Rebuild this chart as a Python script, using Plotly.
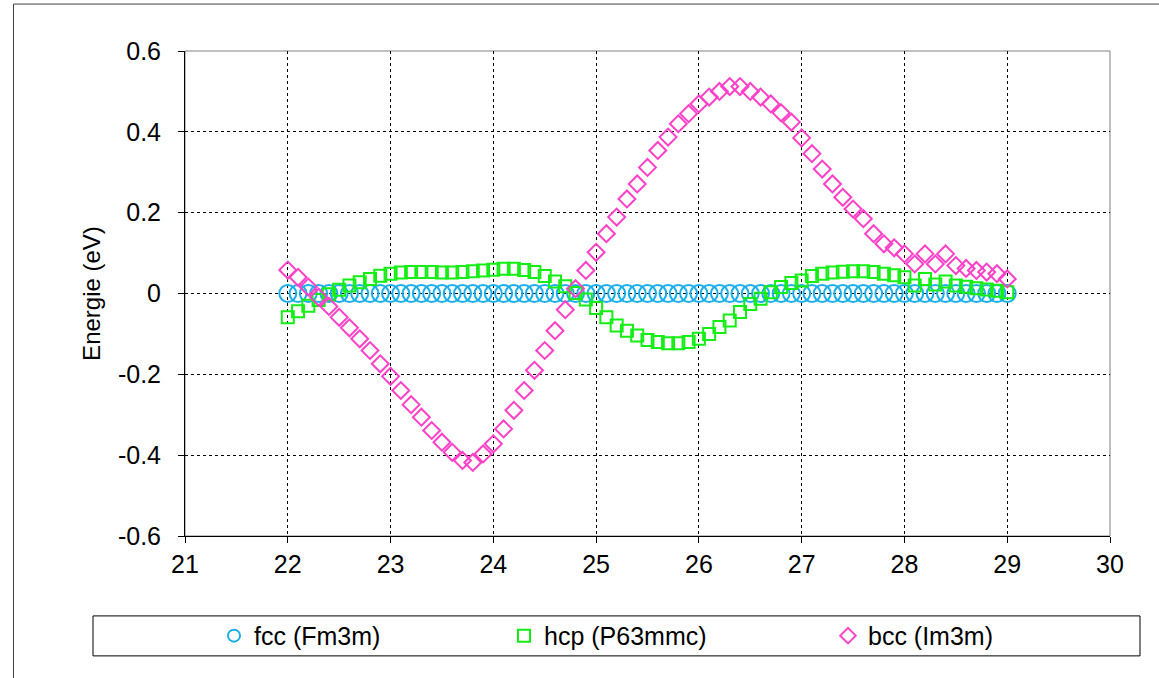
import plotly.graph_objects as go

# ---- data ----
x_vals = [round(22 + 0.1 * i, 1) for i in range(71)]

fcc = [0.0] * 71

hcp = [
    -0.059, -0.044, -0.030, -0.016, -0.002, 0.009, 0.020, 0.028, 0.036, 0.044,
    0.049, 0.052, 0.053, 0.053, 0.053, 0.052, 0.052, 0.053, 0.055, 0.057,
    0.059, 0.061, 0.061, 0.058, 0.053, 0.043, 0.030, 0.018, 0.001, -0.015,
    -0.036, -0.059, -0.079, -0.092, -0.104, -0.115, -0.120, -0.123, -0.123, -0.120,
    -0.112, -0.100, -0.083, -0.067, -0.046, -0.026, -0.013, 0.003, 0.016, 0.026,
    0.032, 0.043, 0.049, 0.052, 0.054, 0.055, 0.055, 0.053, 0.049, 0.045,
    0.040, 0.020, 0.036, 0.022, 0.030, 0.020, 0.017, 0.013, 0.010, 0.007,
    0.003,
]

bcc = [
    0.058, 0.040, 0.016, -0.009, -0.032, -0.059, -0.085, -0.112, -0.141, -0.174,
    -0.205, -0.240, -0.275, -0.306, -0.339, -0.368, -0.393, -0.413, -0.418, -0.397,
    -0.372, -0.335, -0.289, -0.240, -0.190, -0.141, -0.092, -0.040, 0.012, 0.057,
    0.102, 0.148, 0.189, 0.234, 0.271, 0.312, 0.354, 0.387, 0.420, 0.445,
    0.469, 0.486, 0.500, 0.512, 0.512, 0.500, 0.486, 0.469, 0.447, 0.424,
    0.385, 0.346, 0.308, 0.271, 0.238, 0.209, 0.185, 0.148, 0.123, 0.113,
    0.098, 0.073, 0.098, 0.073, 0.098, 0.069, 0.062, 0.057, 0.053, 0.049,
    0.036,
]

series_names = ["fcc (Fm3m)", "hcp (P63mmc)", "bcc (Im3m)"]

x_ticks = [21, 22, 23, 24, 25, 26, 27, 28, 29, 30]
x_tick_labels = ["21", "22", "23", "24", "25", "26", "27", "28", "29", "30"]
y_ticks = [-0.6, -0.4, -0.2, 0, 0.2, 0.4, 0.6]
y_tick_labels = ["-0.6", "-0.4", "-0.2", "0", "0.2", "0.4", "0.6"]

# ---- layout geometry (pixels) ----
W, H = 1159, 678
L, R, T, B = 185, 1110, 50.5, 536
pw, ph = R - L, B - T


def fx(px):
    return (px - L) / pw


def fy(py):
    return (B - py) / ph


FONT = "Liberation Sans, Arial, sans-serif"

fig = go.Figure()
fig.add_trace(go.Scatter(
    x=x_vals, y=fcc, mode="markers", name=series_names[0], legend="legend",
    marker=dict(symbol="circle-open", size=17, color="#1AAEEA",
                line=dict(width=2, color="#1AAEEA")),
))
fig.add_trace(go.Scatter(
    x=x_vals, y=hcp, mode="markers", name=series_names[1], legend="legend2",
    marker=dict(symbol="square-open", size=12, color="#14EE14",
                line=dict(width=2, color="#14EE14")),
))
fig.add_trace(go.Scatter(
    x=x_vals, y=bcc, mode="markers", name=series_names[2], legend="legend3",
    marker=dict(symbol="diamond-open", size=13, color="#FF40C8",
                line=dict(width=2, color="#FF40C8")),
))

leg_common = dict(
    orientation="h", yanchor="middle", y=fy(636), xanchor="left",
    bgcolor="rgba(0,0,0,0)", borderwidth=0, itemsizing="constant",
    font=dict(family=FONT, size=25, color="black"),
)

fig.update_layout(
    width=W, height=H,
    margin=dict(l=L, r=W - R, t=T, b=H - B),
    paper_bgcolor="white", plot_bgcolor="white",
    font=dict(family=FONT, size=25, color="black"),
    showlegend=True,
    legend=dict(x=fx(214), **leg_common),
    legend2=dict(x=fx(504), **leg_common),
    legend3=dict(x=fx(828), **leg_common),
    xaxis=dict(
        range=[21, 30], tickvals=x_ticks, ticktext=x_tick_labels,
        showgrid=True, gridcolor="black", griddash="dot", gridwidth=1,
        zeroline=False, showline=True, linecolor="black", linewidth=1,
        ticks="outside", ticklen=6, tickcolor="black",
        tickfont=dict(family=FONT, size=25, color="black"),
    ),
    yaxis=dict(
        range=[-0.6, 0.6], tickvals=y_ticks, ticktext=y_tick_labels,
        showgrid=True, gridcolor="black", griddash="dot", gridwidth=1,
        zeroline=False, showline=True, linecolor="black", linewidth=1,
        ticks="outside", ticklen=6, tickcolor="black", ticklabelstandoff=12,
        tickfont=dict(family=FONT, size=25, color="black"),
        title=dict(text="Energie (eV)", standoff=10,
                   font=dict(family=FONT, size=24, color="black")),
    ),
    shapes=[
        # plot area border (gray)
        dict(type="rect", xref="paper", yref="paper", x0=0, x1=1, y0=0, y1=1,
             line=dict(color="#808080", width=1), layer="below"),
        # legend box
        dict(type="rect", xref="paper", yref="paper",
             x0=fx(93), x1=fx(1140), y0=fy(656), y1=fy(616),
             line=dict(color="black", width=1)),
        # outer chart frame (left and top edges)
        dict(type="line", xref="paper", yref="paper",
             x0=fx(13.5), x1=fx(13.5), y0=fy(3.5), y1=fy(700),
             line=dict(color="#404040", width=1)),
        dict(type="line", xref="paper", yref="paper",
             x0=fx(13.5), x1=fx(1200), y0=fy(3.5), y1=fy(3.5),
             line=dict(color="#404040", width=1)),
    ],
)

fig.write_html(
    "out.html",
    config={"displayModeBar": False},
    post_script="document.body.style.margin='0px';document.body.style.overflow='hidden';",
)
